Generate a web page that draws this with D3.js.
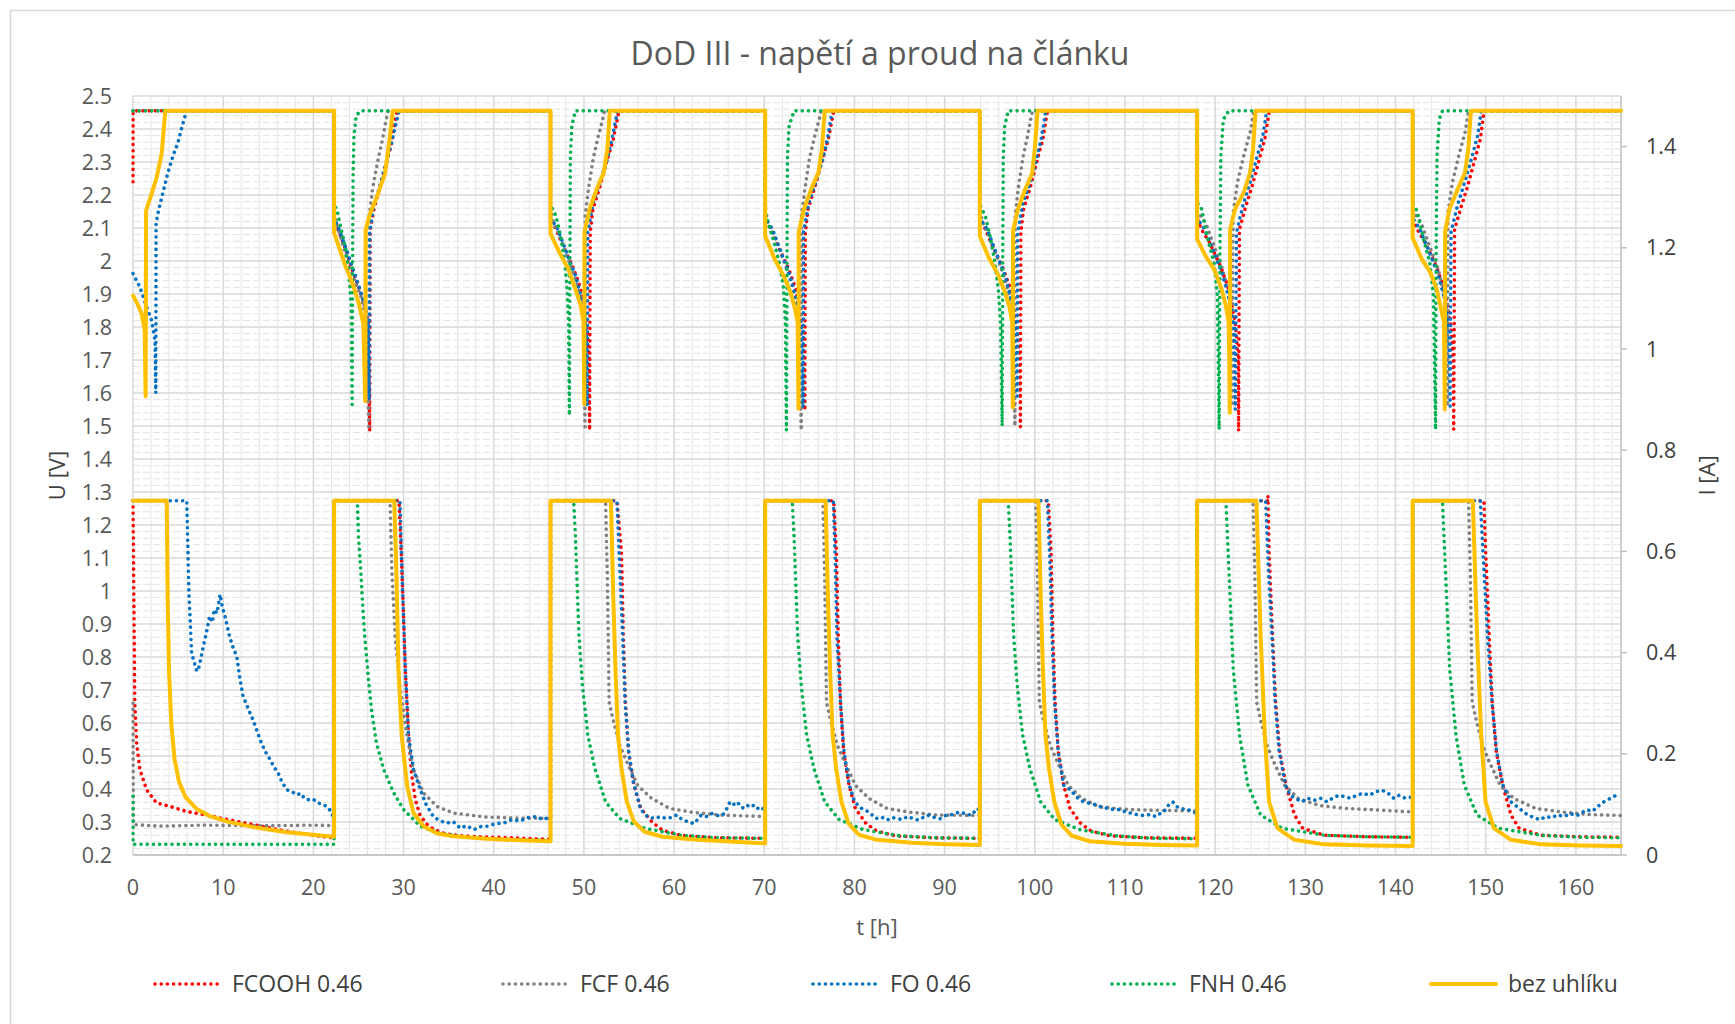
<!DOCTYPE html>
<html><head><meta charset="utf-8">
<script src="https://cdn.jsdelivr.net/npm/d3@7"></script>
<style>
html,body{margin:0;padding:0;background:#fff;}
svg{display:block;font-family:"Open Sans","Noto Sans",sans-serif;}
</style></head>
<body>
<svg id="c" width="1735" height="1024"></svg>
<script>
// ---------------- DATA ----------------
const titleText = "DoD III - napětí a proud na článku";
const seriesNames = ["FCOOH 0.46", "FCF 0.46", "FO 0.46", "FNH 0.46", "bez uhlíku"];
const seriesColors = ["#ff0000", "#808080", "#0070c0", "#00b050", "#ffc000"];
const tTicks = [0,10,20,30,40,50,60,70,80,90,100,110,120,130,140,150,160];
const uTicks = [0.2,0.3,0.4,0.5,0.6,0.7,0.8,0.9,1.0,1.1,1.2,1.3,1.4,1.5,1.6,1.7,1.8,1.9,2.0,2.1,2.2,2.3,2.4,2.5];
const iTicks = [0,0.2,0.4,0.6,0.8,1.0,1.2,1.4];

// voltage [t h, U V]
const fcoohU = [
[0,2.24],[0.02,2.455],[22.3,2.455],
[22.3,2.13],[22.75,2.095],[23.6,2.034],[24.3,1.974],[25.0,1.923],[25.6,1.873],[26.06,1.812],[26.25,1.484],[26.3,2.095],[26.7,2.156],[27.3,2.216],[28.0,2.288],[28.6,2.348],[29.1,2.428],[29.3,2.455],[46.3,2.455],
[46.3,2.13],[46.9,2.097],[47.68,2.046],[48.86,1.976],[49.65,1.915],[50.24,1.815],[50.6,1.714],[50.63,1.487],[50.7,2.087],[51.0,2.157],[51.8,2.228],[52.6,2.309],[53.27,2.369],[53.78,2.44],[53.9,2.455],[70.1,2.455],
[70.1,2.13],[70.7,2.097],[71.5,2.046],[72.7,1.976],[73.5,1.915],[74.1,1.815],[74.45,1.714],[74.5,1.547],[74.55,2.087],[74.85,2.157],[75.65,2.228],[76.45,2.309],[77.1,2.369],[77.6,2.44],[77.7,2.455],[93.9,2.455],
[93.9,2.13],[94.5,2.097],[95.3,2.046],[96.5,1.976],[97.3,1.915],[97.9,1.815],[98.35,1.714],[98.4,1.497],[98.45,2.087],[98.75,2.157],[99.55,2.228],[100.3,2.309],[100.9,2.369],[101.3,2.44],[101.45,2.455],[118.0,2.455],
[118.0,2.13],[118.47,2.096],[119.4,2.055],[120.58,1.985],[121.52,1.914],[122.23,1.813],[122.55,1.7],[122.6,1.485],[122.69,2.096],[123.4,2.166],[124.1,2.227],[124.8,2.298],[125.5,2.369],[125.9,2.439],[126.0,2.455],[141.9,2.455],
[141.9,2.13],[142.4,2.096],[143.3,2.055],[144.5,1.985],[145.4,1.914],[146.1,1.813],[146.4,1.7],[146.45,1.49],[146.55,2.096],[147.3,2.166],[148.0,2.227],[148.7,2.298],[149.4,2.369],[149.74,2.44],[149.85,2.455],[165,2.455]
];
const fcfU = [
[0,2.455],[22.3,2.455],
[22.3,2.15],[22.55,2.115],[23.2,2.055],[23.97,1.984],[24.7,1.933],[25.27,1.893],[25.8,1.832],[26.0,1.66],[26.15,1.489],[26.2,2.135],[26.55,2.216],[27.1,2.297],[27.66,2.368],[28.0,2.418],[28.3,2.455],[46.3,2.455],
[46.3,2.16],[46.6,2.117],[47.3,2.077],[47.87,2.036],[48.66,1.976],[49.25,1.925],[49.73,1.875],[49.96,1.815],[50.12,1.497],[50.14,2.137],[50.5,2.218],[51.02,2.309],[51.6,2.379],[52.1,2.43],[52.3,2.455],[70.1,2.455],
[70.1,2.16],[70.4,2.117],[71.1,2.077],[71.7,2.036],[72.5,1.976],[73.1,1.925],[73.55,1.875],[73.85,1.815],[74.1,1.487],[74.12,2.137],[74.5,2.218],[75.0,2.309],[75.6,2.379],[76.1,2.43],[76.3,2.455],[93.9,2.455],
[93.9,2.16],[94.2,2.117],[94.9,2.077],[95.5,2.036],[96.3,1.976],[96.9,1.925],[97.35,1.875],[97.62,1.815],[97.8,1.5],[97.82,2.137],[98.15,2.218],[98.65,2.309],[99.2,2.379],[99.55,2.43],[99.75,2.455],[118.0,2.455],
[118.0,2.15],[118.94,2.116],[119.88,2.045],[120.82,1.975],[121.38,1.914],[121.76,1.833],[121.9,1.56],[121.99,2.146],[122.46,2.237],[123.16,2.318],[123.87,2.389],[124.2,2.44],[124.35,2.455],[141.9,2.455],
[141.9,2.15],[142.84,2.116],[143.78,2.045],[144.72,1.975],[145.28,1.914],[145.66,1.833],[145.75,1.56],[145.8,2.146],[146.3,2.237],[147.0,2.318],[147.7,2.389],[148.0,2.44],[148.1,2.455],[165,2.455]
];
const foU = [
[0,1.962],[0.78,1.92],[1.52,1.86],[2.07,1.82],[2.44,1.76],[2.53,1.6],[2.56,2.113],[2.8,2.15],[3.35,2.21],[3.9,2.27],[4.45,2.32],[5.0,2.36],[5.37,2.4],[5.74,2.436],[5.85,2.455],[22.3,2.455],
[22.3,2.13],[22.8,2.1],[23.6,2.04],[24.4,1.975],[25.1,1.92],[25.7,1.865],[26.05,1.81],[26.2,1.58],[26.25,2.09],[26.65,2.16],[27.3,2.22],[28.0,2.29],[28.6,2.35],[29.2,2.42],[29.5,2.455],[46.3,2.455],
[46.3,2.13],[47.1,2.097],[48.07,2.026],[49.06,1.956],[49.84,1.875],[50.24,1.794],[50.36,1.563],[50.43,2.087],[51.02,2.177],[51.8,2.238],[52.6,2.309],[53.1,2.369],[53.58,2.434],[53.7,2.455],[70.1,2.455],
[70.1,2.13],[70.9,2.097],[71.87,2.026],[72.86,1.956],[73.64,1.875],[74.1,1.794],[74.3,1.557],[74.35,2.087],[74.95,2.177],[75.7,2.238],[76.5,2.309],[77.0,2.369],[77.4,2.434],[77.5,2.455],[93.9,2.455],
[93.9,2.13],[94.7,2.097],[95.7,2.026],[96.7,1.956],[97.45,1.875],[97.9,1.794],[98.05,1.59],[98.1,2.087],[98.7,2.177],[99.5,2.238],[100.2,2.309],[100.7,2.369],[101.1,2.434],[101.2,2.455],[118.0,2.455],
[118.0,2.13],[118.8,2.097],[119.8,2.03],[120.8,1.96],[121.6,1.88],[122.1,1.8],[122.23,1.55],[122.37,2.086],[123.07,2.167],[123.87,2.237],[124.57,2.308],[125.28,2.379],[125.6,2.434],[125.7,2.455],[141.9,2.455],
[141.9,2.13],[142.7,2.097],[143.7,2.03],[144.7,1.96],[145.5,1.88],[145.9,1.8],[146.05,1.56],[146.15,2.086],[146.85,2.167],[147.65,2.237],[148.4,2.308],[149.1,2.379],[149.4,2.434],[149.5,2.455],[165,2.455]
];
const fnhU = [
[0,2.455],[22.3,2.455],
[22.3,2.17],[22.6,2.156],[23.1,2.095],[23.6,2.034],[23.95,1.955],[24.2,1.87],[24.3,1.565],[24.35,2.0],[24.4,2.25],[24.5,2.38],[24.75,2.44],[25.2,2.455],[46.3,2.455],
[46.3,2.17],[46.9,2.137],[47.48,2.067],[47.87,1.996],[48.15,1.915],[48.3,1.815],[48.39,1.532],[48.45,2.0],[48.5,2.318],[48.66,2.409],[49.06,2.455],[70.1,2.455],
[70.1,2.17],[70.18,2.137],[70.97,2.067],[71.75,1.986],[72.15,1.915],[72.34,1.815],[72.46,1.487],[72.52,2.0],[72.57,2.318],[72.75,2.409],[73.3,2.455],[93.9,2.455],
[93.9,2.17],[94.5,2.137],[95.1,2.067],[95.6,1.99],[95.95,1.915],[96.2,1.815],[96.38,1.5],[96.44,2.0],[96.5,2.318],[96.66,2.409],[97.05,2.455],[118.0,2.455],
[118.0,2.177],[118.47,2.16],[119.17,2.066],[119.88,1.995],[120.25,1.894],[120.44,1.49],[120.53,2.015],[120.63,2.318],[120.9,2.429],[121.5,2.455],[141.9,2.455],
[141.9,2.175],[142.4,2.15],[143.1,2.066],[143.8,1.995],[144.2,1.894],[144.44,1.49],[144.5,2.015],[144.6,2.318],[144.85,2.429],[145.2,2.455],[165,2.455]
];
const bezU = [
[0,1.895],[0.5,1.87],[0.96,1.84],[1.3,1.79],[1.4,1.59],[1.45,2.153],[2.07,2.204],[2.63,2.254],[3.18,2.325],[3.55,2.446],[3.6,2.455],[22.3,2.455],
[22.3,2.085],[22.8,2.045],[23.55,1.985],[24.3,1.935],[25.0,1.875],[25.55,1.81],[25.75,1.575],[25.8,2.095],[26.3,2.145],[27.05,2.195],[27.95,2.265],[28.45,2.37],[28.8,2.455],[46.3,2.455],
[46.3,2.082],[47.28,2.026],[48.27,1.976],[49.06,1.915],[49.65,1.865],[49.96,1.815],[50.04,1.567],[50.06,2.087],[50.63,2.157],[51.42,2.218],[52.2,2.268],[52.6,2.339],[52.87,2.455],[70.1,2.455],
[70.1,2.076],[71.16,2.005],[72.15,1.955],[72.93,1.904],[73.4,1.855],[73.7,1.815],[73.8,1.552],[73.82,2.087],[74.4,2.157],[75.2,2.218],[76.0,2.268],[76.4,2.339],[76.7,2.455],[93.9,2.455],
[93.9,2.075],[94.9,2.01],[95.9,1.96],[96.7,1.905],[97.2,1.86],[97.5,1.815],[97.56,1.557],[97.58,2.09],[98.1,2.155],[98.9,2.215],[99.7,2.265],[100.0,2.34],[100.3,2.455],[118.0,2.455],
[118.0,2.066],[118.94,2.015],[119.88,1.975],[120.72,1.914],[121.19,1.864],[121.5,1.813],[121.62,1.54],[121.66,2.096],[122.2,2.157],[123.16,2.207],[123.87,2.268],[124.2,2.338],[124.48,2.455],[141.9,2.455],
[141.9,2.07],[142.93,2.005],[143.87,1.965],[144.57,1.914],[145.04,1.855],[145.37,1.815],[145.46,1.55],[145.5,2.09],[145.97,2.157],[146.9,2.218],[147.7,2.268],[148.07,2.339],[148.36,2.455],[165,2.455]
];

// current [t h, I A]
const fcoohI = [
[0,0.7],[0.1,0.498],[0.2,0.3],[0.4,0.221],[0.77,0.169],[1.5,0.129],[2.6,0.103],[4.1,0.096],[5.96,0.086],[7.8,0.08],[9.65,0.073],[13.35,0.06],[17.05,0.047],[20.75,0.037],[22.3,0.034],
[22.3,0.7],[29.5,0.7],[29.82,0.564],[30.2,0.366],[30.56,0.235],[30.9,0.16],[31.3,0.11],[31.8,0.08],[32.5,0.062],[33.4,0.05],[34.6,0.042],[36.5,0.038],[38.3,0.036],[42.0,0.034],[46.3,0.031],
[46.3,0.7],[53.66,0.7],[54.17,0.598],[54.37,0.434],[54.6,0.302],[54.96,0.204],[55.55,0.138],[56.3,0.092],[57.5,0.066],[58.7,0.049],[60.7,0.039],[64.6,0.034],[70.1,0.033],
[70.1,0.7],[77.7,0.7],[78.0,0.598],[78.2,0.434],[78.45,0.302],[78.8,0.204],[79.4,0.138],[80.1,0.092],[81.3,0.062],[82.5,0.047],[84.5,0.038],[88.5,0.034],[93.9,0.033],
[93.9,0.7],[101.5,0.7],[101.8,0.598],[102.0,0.434],[102.25,0.302],[102.6,0.204],[103.2,0.138],[103.9,0.092],[105.1,0.062],[106.3,0.047],[108.3,0.038],[112.3,0.034],[118.0,0.033],
[118.0,0.7],[125.8,0.7],[125.85,0.71],[125.98,0.598],[126.36,0.434],[126.7,0.302],[127.15,0.204],[127.86,0.138],[128.8,0.079],[129.7,0.053],[132.1,0.039],[137.0,0.036],[141.9,0.035],
[141.9,0.7],[149.8,0.7],[150.0,0.598],[150.38,0.434],[150.72,0.302],[151.17,0.204],[151.88,0.138],[152.8,0.079],[153.7,0.053],[156.1,0.039],[160.5,0.036],[165,0.035]
];
const fcfI = [
[0,0.3],[0.05,0.06],[3,0.057],[8,0.059],[12,0.058],[16,0.058],[20,0.059],[22.3,0.058],
[22.3,0.7],[28.5,0.7],[28.7,0.564],[29.07,0.432],[29.6,0.333],[30.4,0.235],[31.1,0.169],[32.2,0.123],[33.7,0.096],[35.5,0.083],[39.2,0.075],[42.9,0.073],[46.3,0.072],
[46.3,0.7],[52.4,0.7],[52.6,0.55],[52.8,0.302],[53.2,0.27],[53.98,0.217],[54.76,0.184],[55.95,0.138],[57.5,0.112],[59.5,0.092],[61.85,0.085],[65.0,0.079],[70.1,0.076],
[70.1,0.7],[76.5,0.7],[76.7,0.55],[76.9,0.302],[77.3,0.27],[78.1,0.217],[78.9,0.184],[80.1,0.138],[81.6,0.112],[83.6,0.092],[86.0,0.085],[89.1,0.079],[93.9,0.078],
[93.9,0.7],[100.1,0.7],[100.3,0.55],[100.5,0.302],[100.9,0.27],[101.7,0.217],[102.5,0.184],[103.7,0.138],[105.2,0.112],[107.2,0.095],[110.3,0.09],[114.2,0.088],[118.0,0.087],
[118.0,0.7],[124.2,0.7],[124.4,0.55],[124.6,0.302],[125.0,0.27],[125.75,0.217],[126.5,0.184],[127.7,0.138],[129.2,0.112],[131.5,0.098],[134.5,0.092],[138.0,0.089],[141.9,0.085],
[141.9,0.7],[148.1,0.7],[148.3,0.55],[148.5,0.302],[148.9,0.27],[149.65,0.217],[150.4,0.184],[151.6,0.138],[153.1,0.112],[155.5,0.092],[158.5,0.085],[161.5,0.08],[165,0.078]
];
const foI = [
[0,0.7],[5.96,0.7],[6.2,0.52],[6.5,0.399],[6.8,0.38],[7.07,0.363],[7.3,0.37],[7.8,0.412],[8.2,0.445],[8.5,0.472],[8.8,0.46],[9.0,0.485],[9.3,0.478],[9.66,0.515],[9.9,0.49],[10.2,0.472],[10.7,0.432],[11.1,0.41],[11.5,0.393],[11.85,0.35],[12.2,0.314],[12.6,0.297],[12.97,0.281],[13.35,0.265],[13.7,0.248],[14.05,0.23],[14.4,0.215],[14.8,0.2],[15.2,0.189],[15.6,0.175],[16.1,0.162],[16.5,0.145],[17.05,0.129],[17.6,0.125],[18.2,0.119],[18.6,0.122],[19.0,0.112],[19.5,0.109],[20.0,0.11],[20.5,0.103],[21.0,0.1],[21.5,0.096],[22.0,0.085],[22.3,0.07],
[22.3,0.7],[29.6,0.7],[29.82,0.564],[30.2,0.366],[30.56,0.235],[31.1,0.169],[31.86,0.129],[32.5,0.1],[33.3,0.076],[34.0,0.068],[34.8,0.063],[35.5,0.066],[36.3,0.053],[37.0,0.058],[37.8,0.05],[38.5,0.056],[39.3,0.057],[40.2,0.062],[41.1,0.063],[42.0,0.07],[42.9,0.067],[43.8,0.074],[44.8,0.076],[45.4,0.07],[45.9,0.073],[46.3,0.072],
[46.3,0.7],[53.66,0.7],[53.98,0.565],[54.3,0.434],[54.57,0.302],[54.96,0.204],[55.47,0.145],[56.3,0.09],[57.1,0.075],[57.9,0.072],[58.5,0.076],[59.1,0.072],[59.7,0.074],[60.3,0.079],[60.9,0.07],[61.5,0.066],[62.2,0.062],[62.6,0.07],[63.0,0.079],[63.6,0.076],[64.2,0.082],[64.8,0.078],[65.4,0.079],[65.8,0.09],[66.2,0.105],[66.6,0.1],[67.0,0.105],[67.4,0.095],[67.8,0.092],[68.2,0.098],[68.5,0.095],[68.9,0.099],[69.3,0.092],[69.7,0.095],[70.1,0.085],
[70.1,0.7],[77.66,0.7],[77.9,0.565],[78.05,0.434],[78.45,0.302],[78.84,0.204],[79.43,0.138],[80.02,0.105],[80.8,0.092],[81.6,0.085],[82.4,0.072],[83.0,0.075],[83.6,0.069],[84.2,0.074],[84.7,0.072],[85.3,0.07],[85.9,0.076],[86.5,0.072],[87.1,0.069],[87.7,0.075],[88.3,0.079],[88.9,0.074],[89.5,0.072],[90.1,0.078],[90.7,0.079],[91.2,0.083],[91.8,0.085],[92.4,0.08],[93.0,0.079],[93.6,0.092],[93.9,0.088],
[93.9,0.7],[101.4,0.7],[101.7,0.565],[101.9,0.434],[102.2,0.302],[102.6,0.204],[103.2,0.138],[104.0,0.128],[104.6,0.115],[105.4,0.105],[106.1,0.102],[106.8,0.099],[107.5,0.094],[108.2,0.092],[108.9,0.089],[109.5,0.09],[110.1,0.085],[110.8,0.082],[111.5,0.079],[112.2,0.078],[112.8,0.08],[113.4,0.076],[113.9,0.082],[114.3,0.085],[114.8,0.098],[115.3,0.105],[115.8,0.095],[116.2,0.092],[116.7,0.09],[117.1,0.089],[117.6,0.085],[118.0,0.082],
[118.0,0.7],[125.6,0.7],[125.9,0.565],[126.3,0.434],[126.65,0.302],[127.1,0.204],[127.8,0.138],[128.3,0.118],[128.9,0.112],[129.6,0.105],[130.3,0.112],[131.0,0.108],[131.7,0.112],[132.4,0.105],[133.0,0.112],[133.7,0.118],[134.4,0.115],[135.0,0.112],[135.7,0.118],[136.4,0.122],[137.1,0.118],[137.8,0.125],[138.5,0.128],[139.2,0.122],[139.8,0.112],[140.4,0.118],[141.1,0.112],[141.9,0.115],
[141.9,0.7],[149.4,0.7],[149.8,0.565],[150.2,0.434],[150.7,0.302],[151.2,0.204],[151.9,0.138],[152.4,0.12],[152.8,0.105],[153.3,0.098],[153.75,0.092],[154.2,0.085],[154.7,0.079],[155.2,0.075],[155.6,0.072],[156.1,0.07],[156.6,0.076],[157.3,0.074],[158.0,0.079],[158.7,0.076],[159.4,0.082],[159.9,0.078],[160.3,0.079],[160.8,0.085],[161.3,0.089],[161.8,0.086],[162.2,0.092],[162.7,0.1],[163.1,0.105],[163.6,0.11],[164.1,0.115],[164.5,0.118],[164.8,0.122]
];
const fnhI = [
[0,0.116],[0.02,0.021],[22.3,0.021],
[22.3,0.7],[24.88,0.7],[25.0,0.63],[25.25,0.564],[25.45,0.498],[25.7,0.432],[26.08,0.353],[26.45,0.287],[27.0,0.221],[27.8,0.169],[28.9,0.123],[30.0,0.09],[31.85,0.057],[34.0,0.043],[37.0,0.035],[41.0,0.031],[46.3,0.029],
[46.3,0.7],[48.86,0.7],[49.06,0.631],[49.25,0.533],[49.45,0.434],[49.84,0.335],[50.43,0.237],[51.22,0.171],[52.4,0.105],[53.98,0.072],[56.73,0.053],[60.7,0.039],[64.6,0.034],[70.1,0.033],
[70.1,0.7],[73.1,0.7],[73.3,0.631],[73.5,0.533],[73.7,0.434],[74.1,0.335],[74.7,0.237],[75.5,0.171],[76.7,0.105],[78.3,0.07],[81.0,0.05],[85.0,0.038],[89.0,0.034],[93.9,0.033],
[93.9,0.7],[97.05,0.7],[97.25,0.631],[97.45,0.533],[97.65,0.434],[98.05,0.335],[98.65,0.237],[99.45,0.171],[100.65,0.105],[102.2,0.07],[105.0,0.05],[109.0,0.038],[113.0,0.033],[118.0,0.032],
[118.0,0.7],[121.19,0.7],[121.52,0.565],[122.0,0.368],[122.7,0.237],[123.63,0.138],[125.04,0.079],[127.4,0.053],[132.1,0.039],[137.0,0.036],[141.9,0.035],
[141.9,0.7],[145.2,0.7],[145.53,0.565],[146.0,0.368],[146.7,0.237],[147.63,0.138],[149.04,0.079],[151.4,0.053],[156.1,0.039],[160.5,0.035],[165,0.034]
];
const bezI = [
[0,0.7],[3.74,0.7],[3.85,0.5],[4.0,0.36],[4.25,0.26],[4.6,0.19],[5.1,0.145],[5.8,0.115],[7.0,0.092],[8.5,0.077],[10.5,0.066],[13.35,0.055],[17.05,0.045],[22.3,0.036],
[22.3,0.7],[28.97,0.7],[29.2,0.564],[29.44,0.366],[29.8,0.235],[30.4,0.136],[31.1,0.083],[32.2,0.057],[33.7,0.043],[35.5,0.037],[39.2,0.032],[42.9,0.029],[46.3,0.027],
[46.3,0.7],[53.0,0.7],[53.27,0.5],[53.5,0.368],[53.78,0.237],[54.17,0.171],[54.76,0.105],[55.55,0.066],[56.73,0.046],[58.7,0.036],[62.6,0.03],[66.6,0.026],[70.1,0.023],
[70.1,0.7],[76.8,0.7],[77.07,0.5],[77.3,0.368],[77.58,0.237],[77.97,0.171],[78.56,0.105],[79.35,0.062],[80.5,0.04],[82.5,0.03],[86.4,0.024],[90.4,0.021],[93.9,0.02],
[93.9,0.7],[100.4,0.7],[100.67,0.5],[100.9,0.368],[101.18,0.237],[101.57,0.171],[102.16,0.105],[102.95,0.06],[104.1,0.038],[106.1,0.027],[110.0,0.022],[114.0,0.02],[118.0,0.019],
[118.0,0.7],[124.57,0.7],[125.04,0.434],[125.5,0.237],[125.98,0.105],[126.9,0.053],[128.8,0.03],[132.1,0.021],[137.0,0.019],[141.9,0.018],
[141.9,0.7],[148.57,0.7],[149.04,0.434],[149.5,0.237],[149.98,0.105],[150.9,0.053],[152.8,0.03],[156.1,0.021],[160.5,0.019],[165,0.018]
];

const voltageSeries = [fcoohU, fcfU, foU, fnhU, bezU];
const currentSeries = [fcoohI, fcfI, foI, fnhI, bezI];

// ---------------- CHART ----------------
const svg = d3.select("#c");
const L = 133, R = 1621, T = 96, B = 855;
const x = d3.scaleLinear().domain([0, 165]).range([L, R]);
const yU = d3.scaleLinear().domain([0.2, 2.5]).range([B, T]);
const yI = d3.scaleLinear().domain([0, 1.5]).range([B, T]);

// chart border
svg.append("rect").attr("x", 10.5).attr("y", 10.5).attr("width", 1740).attr("height", 1030)
  .attr("fill", "#fff").attr("stroke", "#d9d9d9").attr("stroke-width", 1.5);

const grid = svg.append("g");
// minor horizontal gridlines (0.02 V)
const minorU = d3.range(0, 116).map(i => 0.2 + i * 0.02).filter(v => Math.abs(Math.round(v * 10) - v * 10) > 1e-6);
grid.selectAll(".mh").data(minorU).join("line")
  .attr("x1", L).attr("x2", R).attr("y1", d => yU(d)).attr("y2", d => yU(d))
  .attr("stroke", "#e3e3e3").attr("stroke-width", 1).attr("stroke-dasharray", "7 3");
// minor vertical gridlines (2 h)
const minorT = d3.range(2, 165, 2).filter(v => v % 10 !== 0);
grid.selectAll(".mv").data(minorT).join("line")
  .attr("x1", d => x(d)).attr("x2", d => x(d)).attr("y1", T).attr("y2", B)
  .attr("stroke", "#e6e6e6").attr("stroke-width", 1);
// major horizontal
grid.selectAll(".Mh").data(uTicks).join("line")
  .attr("x1", L).attr("x2", R).attr("y1", d => yU(d)).attr("y2", d => yU(d))
  .attr("stroke", "#d9d9d9").attr("stroke-width", 1.5);
// major vertical
grid.selectAll(".Mv").data(tTicks).join("line")
  .attr("x1", d => x(d)).attr("x2", d => x(d)).attr("y1", T).attr("y2", B)
  .attr("stroke", "#d9d9d9").attr("stroke-width", 1.5);

// axes lines
svg.append("line").attr("x1", L).attr("x2", R).attr("y1", B).attr("y2", B).attr("stroke", "#bfbfbf").attr("stroke-width", 1.5);
svg.append("line").attr("x1", R).attr("x2", R).attr("y1", T).attr("y2", B).attr("stroke", "#bfbfbf").attr("stroke-width", 1.5);

// left axis labels
const fmt = v => String(+v.toFixed(1));
svg.append("g").selectAll("text").data(uTicks).join("text")
  .attr("x", L - 21).attr("y", d => yU(d)).attr("dy", "0.35em").attr("text-anchor", "end")
  .attr("font-size", 21.5).attr("fill", "#595959").text(fmt);
// right axis ticks + labels
svg.append("g").selectAll("line").data(iTicks).join("line")
  .attr("x1", R).attr("x2", R + 6).attr("y1", d => yI(d)).attr("y2", d => yI(d))
  .attr("stroke", "#bfbfbf").attr("stroke-width", 1.5);
svg.append("g").selectAll("text").data(iTicks).join("text")
  .attr("x", R + 25).attr("y", d => yI(d)).attr("dy", "0.35em").attr("text-anchor", "start")
  .attr("font-size", 21.5).attr("fill", "#404040").text(fmt);
// bottom labels
svg.append("g").selectAll("text").data(tTicks).join("text")
  .attr("x", d => x(d)).attr("y", B + 40).attr("text-anchor", "middle")
  .attr("font-size", 21.5).attr("fill", "#595959").text(d => d);

// titles
svg.append("text").attr("x", 880).attr("y", 65).attr("text-anchor", "middle")
  .attr("font-size", 32).attr("fill", "#595959").text(titleText);
svg.append("text").attr("transform", `translate(65,${(T + B) / 2}) rotate(-90)`)
  .attr("text-anchor", "middle").attr("font-size", 22).attr("fill", "#404040").text("U [V]");
svg.append("text").attr("transform", `translate(1715,${(T + B) / 2}) rotate(-90)`)
  .attr("text-anchor", "middle").attr("font-size", 22).attr("fill", "#404040").text("I [A]");
svg.append("text").attr("x", (L + R) / 2).attr("y", 935).attr("text-anchor", "middle")
  .attr("font-size", 22).attr("fill", "#595959").text("t [h]");

// series
const lineU = d3.line().x(d => x(d[0])).y(d => yU(d[1]));
const lineI = d3.line().x(d => x(d[0])).y(d => yI(d[1]));
const plot = svg.append("g");
function styleSeries(sel, i) {
  sel.attr("fill", "none").attr("stroke", seriesColors[i]).attr("stroke-linejoin", "round");
  if (i === 4) {
    sel.attr("stroke-width", 4).attr("stroke-linecap", "round");
  } else {
    sel.attr("stroke-width", 3.6).attr("stroke-linecap", "round").attr("stroke-dasharray", "0.01 6.2");
  }
}
voltageSeries.forEach((s, i) => plot.append("path").attr("d", lineU(s)).call(styleSeries, i));
currentSeries.forEach((s, i) => plot.append("path").attr("d", lineI(s)).call(styleSeries, i));

// legend
const legX = [155, 503, 813, 1112, 1431];
const legY = 984;
const leg = svg.append("g");
seriesNames.forEach((n, i) => {
  leg.append("line").attr("x1", legX[i]).attr("x2", legX[i] + 65).attr("y1", legY).attr("y2", legY)
    .call(styleSeries, i);
  leg.append("text").attr("x", legX[i] + 77).attr("y", legY).attr("dy", "0.35em")
    .attr("font-size", 23).attr("fill", "#404040").text(n);
});
</script>
</body></html>
